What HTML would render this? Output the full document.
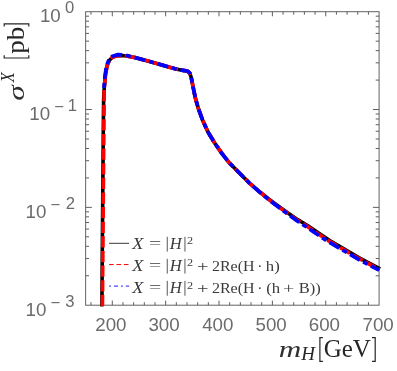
<!DOCTYPE html>
<html><head><meta charset="utf-8"><title>plot</title>
<style>html,body{margin:0;padding:0;background:#fff}svg{display:block;will-change:transform}</style></head>
<body>
<svg width="397" height="371" viewBox="0 0 397 371">
<rect width="397" height="371" fill="#fff"/>
<path d="M90.97 305.2 v-3.0 M90.97 11.7 v3.0 M101.64 305.2 v-3.0 M101.64 11.7 v3.0 M112.31 305.2 v-4.6 M112.31 11.7 v4.6 M122.98 305.2 v-3.0 M122.98 11.7 v3.0 M133.65 305.2 v-3.0 M133.65 11.7 v3.0 M144.32 305.2 v-3.0 M144.32 11.7 v3.0 M155.00 305.2 v-3.0 M155.00 11.7 v3.0 M165.67 305.2 v-4.6 M165.67 11.7 v4.6 M176.34 305.2 v-3.0 M176.34 11.7 v3.0 M187.01 305.2 v-3.0 M187.01 11.7 v3.0 M197.68 305.2 v-3.0 M197.68 11.7 v3.0 M208.35 305.2 v-3.0 M208.35 11.7 v3.0 M219.03 305.2 v-4.6 M219.03 11.7 v4.6 M229.70 305.2 v-3.0 M229.70 11.7 v3.0 M240.37 305.2 v-3.0 M240.37 11.7 v3.0 M251.04 305.2 v-3.0 M251.04 11.7 v3.0 M261.71 305.2 v-3.0 M261.71 11.7 v3.0 M272.38 305.2 v-4.6 M272.38 11.7 v4.6 M283.06 305.2 v-3.0 M283.06 11.7 v3.0 M293.73 305.2 v-3.0 M293.73 11.7 v3.0 M304.40 305.2 v-3.0 M304.40 11.7 v3.0 M315.07 305.2 v-3.0 M315.07 11.7 v3.0 M325.74 305.2 v-4.6 M325.74 11.7 v4.6 M336.41 305.2 v-3.0 M336.41 11.7 v3.0 M347.09 305.2 v-3.0 M347.09 11.7 v3.0 M357.76 305.2 v-3.0 M357.76 11.7 v3.0 M368.43 305.2 v-3.0 M368.43 11.7 v3.0 M85.63 109.53 h6.2 M379.1 109.53 h-6.2 M85.63 80.08 h3.4 M379.1 80.08 h-3.4 M85.63 62.85 h3.4 M379.1 62.85 h-3.4 M85.63 50.63 h3.4 M379.1 50.63 h-3.4 M85.63 41.15 h3.4 M379.1 41.15 h-3.4 M85.63 33.40 h3.4 M379.1 33.40 h-3.4 M85.63 26.85 h3.4 M379.1 26.85 h-3.4 M85.63 21.18 h3.4 M379.1 21.18 h-3.4 M85.63 16.18 h3.4 M379.1 16.18 h-3.4 M85.63 207.37 h6.2 M379.1 207.37 h-6.2 M85.63 177.92 h3.4 M379.1 177.92 h-3.4 M85.63 160.69 h3.4 M379.1 160.69 h-3.4 M85.63 148.47 h3.4 M379.1 148.47 h-3.4 M85.63 138.98 h3.4 M379.1 138.98 h-3.4 M85.63 131.24 h3.4 M379.1 131.24 h-3.4 M85.63 124.69 h3.4 M379.1 124.69 h-3.4 M85.63 119.01 h3.4 M379.1 119.01 h-3.4 M85.63 114.01 h3.4 M379.1 114.01 h-3.4 M85.63 275.75 h3.4 M379.1 275.75 h-3.4 M85.63 258.52 h3.4 M379.1 258.52 h-3.4 M85.63 246.30 h3.4 M379.1 246.30 h-3.4 M85.63 236.82 h3.4 M379.1 236.82 h-3.4 M85.63 229.07 h3.4 M379.1 229.07 h-3.4 M85.63 222.52 h3.4 M379.1 222.52 h-3.4 M85.63 216.85 h3.4 M379.1 216.85 h-3.4 M85.63 211.84 h3.4 M379.1 211.84 h-3.4" stroke="#5e5e5e" stroke-width="1.0" fill="none"/>
<rect x="85.63" y="11.7" width="293.47" height="293.5" fill="none" stroke="#636363" stroke-width="1.0"/>
<polyline points="101.9,306.5 102.3,250.0 102.8,190.0 103.3,130.0 103.6,100.0 104.2,88.5 105.4,75.6 107.0,65.9 109.4,60.2 112.7,57.0 118.3,55.4 125.0,55.8 135.0,57.6 145.0,60.2 155.0,63.0 165.0,65.9 175.0,68.7 183.0,70.4 187.2,71.0 189.7,72.9 191.2,77.4 193.4,88.5 195.5,98.6 198.3,108.3 202.6,120.2 208.0,132.0 214.5,142.8 222.0,153.6 229.7,163.3 239.4,173.0 249.1,182.8 258.9,191.1 268.7,199.0 278.5,206.2 288.3,213.2 298.1,219.9 307.9,225.8 315.2,230.8 329.7,240.5 344.3,249.0 358.8,257.6 373.4,265.4 380.1,268.9" fill="none" stroke="#000" stroke-width="3.6" stroke-linejoin="round"/>
<polyline points="102.4,306.5 102.8,250.0 103.3,190.0 103.8,130.0 104.1,100.0 104.2,88.5 105.4,75.6 107.0,65.9 109.4,60.2 112.7,57.0 118.3,55.4 125.0,55.8 135.0,57.6 145.0,60.2 155.0,63.0 165.0,65.9 175.0,68.7 183.0,70.4 187.2,71.0 189.7,72.9 191.2,77.4 193.4,88.5 195.5,98.6 198.3,108.3 202.6,120.2 208.0,132.0 214.5,142.8 222.0,153.6 229.7,163.3 239.4,173.0 249.1,182.8 258.8,191.2 268.5,199.2 278.2,206.5 287.9,213.6 297.6,220.4 307.3,226.4 314.6,231.5 329.1,241.2 343.7,249.7 358.2,258.2 372.8,266.0 379.5,269.5" fill="none" stroke="#f00" stroke-width="3.7" stroke-linejoin="round" stroke-dasharray="11.2 3.43" stroke-dashoffset="14.2"/>
<polyline points="103.9,88.8 105.1,74.8 106.7,65.1 109.1,59.4 112.4,56.2 118.0,54.6 124.7,55.0 135.0,57.6 145.0,60.2 155.0,63.0 165.0,65.9 175.0,68.7 183.0,70.4 187.2,71.0 189.7,72.9 191.2,77.4 193.4,88.5 195.5,98.6 198.3,108.3 202.6,120.2 208.0,132.0 214.5,142.8 222.0,153.6 229.7,163.3 239.4,173.0 249.1,182.8 258.7,191.3 268.3,199.4 278.0,206.8 287.6,214.0 297.2,221.0 306.8,227.1 314.1,232.2 328.6,241.9 343.2,250.4 357.7,258.9 372.3,266.7 379.0,270.2" fill="none" stroke="#00f" stroke-width="3.7" stroke-linejoin="round" stroke-dasharray="11.2 3.8 5 3.8" stroke-dashoffset="14.1"/>
<g style="font-kerning:none">
<text transform="translate(96.22,331.00) scale(1.0400,1)" x="-0.91" y="0" font-family="Liberation Sans, sans-serif" font-size="18" fill="#6b6b6b">200</text>
<text transform="translate(149.11,331.00) scale(1.0400,1)" x="-0.69" y="0" font-family="Liberation Sans, sans-serif" font-size="18" fill="#6b6b6b">300</text>
<text transform="translate(202.56,331.00) scale(1.0400,1)" x="-0.41" y="0" font-family="Liberation Sans, sans-serif" font-size="18" fill="#6b6b6b">400</text>
<text transform="translate(256.22,331.00) scale(1.0400,1)" x="-0.72" y="0" font-family="Liberation Sans, sans-serif" font-size="18" fill="#6b6b6b">500</text>
<text transform="translate(309.72,331.00) scale(1.0400,1)" x="-0.91" y="0" font-family="Liberation Sans, sans-serif" font-size="18" fill="#6b6b6b">600</text>
<text transform="translate(363.43,331.00) scale(1.0400,1)" x="-0.92" y="0" font-family="Liberation Sans, sans-serif" font-size="18" fill="#6b6b6b">700</text>
<text transform="translate(41.33,22.30) scale(1.0400,1)" x="-1.37" y="0" font-family="Liberation Sans, sans-serif" font-size="18" fill="#6b6b6b">10</text>
<text transform="translate(65.65,13.40) scale(1.0400,1)" x="-0.62" y="0" font-family="Liberation Sans, sans-serif" font-size="16" fill="#6b6b6b">0</text>
<text transform="translate(30.73,120.13) scale(1.0400,1)" x="-1.37" y="0" font-family="Liberation Sans, sans-serif" font-size="18" fill="#6b6b6b">10</text>
<text transform="translate(55.00,112.33) scale(1.0400,1)" x="-0.79" y="0" font-family="Liberation Sans, sans-serif" font-size="16" fill="#6b6b6b">−</text>
<text transform="translate(68.93,111.23) scale(1.0400,1)" x="-1.22" y="0" font-family="Liberation Sans, sans-serif" font-size="16" fill="#6b6b6b">1</text>
<text transform="translate(26.93,217.97) scale(1.0400,1)" x="-1.37" y="0" font-family="Liberation Sans, sans-serif" font-size="18" fill="#6b6b6b">10</text>
<text transform="translate(51.20,210.17) scale(1.0400,1)" x="-0.79" y="0" font-family="Liberation Sans, sans-serif" font-size="16" fill="#6b6b6b">−</text>
<text transform="translate(66.52,209.07) scale(1.0400,1)" x="-0.80" y="0" font-family="Liberation Sans, sans-serif" font-size="16" fill="#6b6b6b">2</text>
<text transform="translate(26.93,315.80) scale(1.0400,1)" x="-1.37" y="0" font-family="Liberation Sans, sans-serif" font-size="18" fill="#6b6b6b">10</text>
<text transform="translate(51.20,308.00) scale(1.0400,1)" x="-0.79" y="0" font-family="Liberation Sans, sans-serif" font-size="16" fill="#6b6b6b">−</text>
<text transform="translate(65.91,306.90) scale(1.0400,1)" x="-0.61" y="0" font-family="Liberation Sans, sans-serif" font-size="16" fill="#6b6b6b">3</text>
<path d="M109.1 243.3H129.0" stroke="#222" stroke-width="0.9"/>
<path d="M109.1 264.55H129.1" stroke="#f00" stroke-width="1.0" stroke-dasharray="4.6 2.8"/>
<path d="M109.1 286.1H129.1" stroke="#00f" stroke-width="0.9" stroke-dasharray="1.9 2.9 4.2 2.9"/>
<text transform="translate(131.60,248.60) scale(1.1368,1)" x="0.53" y="0" font-family="Liberation Serif, serif" font-size="16" font-style="italic" fill="#3a3a3a">X</text>
<text transform="translate(150.00,248.30) scale(1.4003,1)" x="-0.77" y="0" font-family="Liberation Serif, serif" font-size="15.5" fill="#3a3a3a">=</text>
<text transform="translate(169.70,248.60) scale(1.0365,1)" x="0.17" y="0" font-family="Liberation Serif, serif" font-size="16" font-style="italic" fill="#3a3a3a">H</text>
<text transform="translate(187.50,244.40) scale(1.1531,1)" x="-0.47" y="0" font-family="Liberation Serif, serif" font-size="10.6" fill="#3a3a3a">2</text>
<text transform="translate(131.60,270.60) scale(1.1368,1)" x="0.53" y="0" font-family="Liberation Serif, serif" font-size="16" font-style="italic" fill="#3a3a3a">X</text>
<text transform="translate(150.00,270.30) scale(1.4003,1)" x="-0.77" y="0" font-family="Liberation Serif, serif" font-size="15.5" fill="#3a3a3a">=</text>
<text transform="translate(169.70,270.60) scale(1.0365,1)" x="0.17" y="0" font-family="Liberation Serif, serif" font-size="16" font-style="italic" fill="#3a3a3a">H</text>
<text transform="translate(187.50,266.40) scale(1.1531,1)" x="-0.47" y="0" font-family="Liberation Serif, serif" font-size="10.6" fill="#3a3a3a">2</text>
<text transform="translate(198.10,270.90) scale(1.3171,1)" x="-0.77" y="0" font-family="Liberation Serif, serif" font-size="15.5" fill="#3a3a3a">+</text>
<text transform="translate(212.60,270.60) scale(1.0351,1)" x="-0.68" y="0" font-family="Liberation Serif, serif" font-size="15.5" fill="#3a3a3a">2Re(H</text>
<text transform="translate(258.90,270.60) scale(1.0000,1)" x="-1.67" y="0" font-family="Liberation Serif, serif" font-size="15.5" fill="#3a3a3a">·</text>
<text transform="translate(266.00,270.60) scale(1.0762,1)" x="-0.15" y="0" font-family="Liberation Serif, serif" font-size="15.5" fill="#3a3a3a">h)</text>
<text transform="translate(131.60,292.70) scale(1.1368,1)" x="0.53" y="0" font-family="Liberation Serif, serif" font-size="16" font-style="italic" fill="#3a3a3a">X</text>
<text transform="translate(150.00,292.40) scale(1.4003,1)" x="-0.77" y="0" font-family="Liberation Serif, serif" font-size="15.5" fill="#3a3a3a">=</text>
<text transform="translate(169.70,292.70) scale(1.0365,1)" x="0.17" y="0" font-family="Liberation Serif, serif" font-size="16" font-style="italic" fill="#3a3a3a">H</text>
<text transform="translate(187.50,288.50) scale(1.1531,1)" x="-0.47" y="0" font-family="Liberation Serif, serif" font-size="10.6" fill="#3a3a3a">2</text>
<text transform="translate(198.10,293.00) scale(1.3171,1)" x="-0.77" y="0" font-family="Liberation Serif, serif" font-size="15.5" fill="#3a3a3a">+</text>
<text transform="translate(212.60,292.70) scale(1.0351,1)" x="-0.68" y="0" font-family="Liberation Serif, serif" font-size="15.5" fill="#3a3a3a">2Re(H</text>
<text transform="translate(258.90,292.70) scale(1.0000,1)" x="-1.67" y="0" font-family="Liberation Serif, serif" font-size="15.5" fill="#3a3a3a">·</text>
<text transform="translate(267.00,292.70) scale(1.0810,1)" x="-0.68" y="0" font-family="Liberation Serif, serif" font-size="15.5" fill="#3a3a3a">(h</text>
<text transform="translate(284.10,293.00) scale(1.2894,1)" x="-0.77" y="0" font-family="Liberation Serif, serif" font-size="15.5" fill="#3a3a3a">+</text>
<text transform="translate(299.10,292.70) scale(1.0648,1)" x="-0.45" y="0" font-family="Liberation Serif, serif" font-size="15.5" fill="#3a3a3a">B))</text>
<path d="M167.25 236.8V251.6 M184.95 236.8V251.6 M167.25 258.8V273.6 M184.95 258.8V273.6 M167.25 280.9V295.7 M184.95 280.9V295.7" stroke="#3a3a3a" stroke-width="0.85" fill="none"/>
<text transform="translate(23.6,0) rotate(-90) translate(-99.80,0.00) scale(1.3322,1)" x="-0.70" y="0" font-family="Liberation Serif, serif" font-size="23.5" font-style="italic" fill="#303030">σ</text>
<text transform="translate(23.6,0) rotate(-90) translate(-82.90,-9.40) scale(0.9037,1)" x="0.60" y="0" font-family="Liberation Serif, serif" font-size="18" font-style="italic" fill="#262626">X</text>
<text transform="translate(23.6,0) rotate(-90) translate(-53.40,0.00) scale(1.0615,1)" x="-0.41" y="0" font-family="Liberation Serif, serif" font-size="25.5" fill="#262626">pb</text>
<path d="M4.2 55.3V58.0H28.8V55.3 M4.2 26.4V23.9H28.8V26.4" fill="none" stroke="#262626" stroke-width="1.2"/>
<text transform="translate(279.80,356.60) scale(1.3004,1)" x="-0.87" y="0" font-family="Liberation Serif, serif" font-size="24" font-style="italic" fill="#303030">m</text>
<text transform="translate(301.00,360.20) scale(1.0571,1)" x="0.19" y="0" font-family="Liberation Serif, serif" font-size="18" font-style="italic" fill="#262626">H</text>
<text transform="translate(324.70,356.60) scale(0.9804,1)" x="-1.05" y="0" font-family="Liberation Serif, serif" font-size="25.5" fill="#262626">GeV</text>
<path d="M322.9 337.7H319.9V361.4H322.9 M372.0 337.7H375.2V361.4H372.0" fill="none" stroke="#262626" stroke-width="1.2"/>
</g>
</svg>
</body></html>
